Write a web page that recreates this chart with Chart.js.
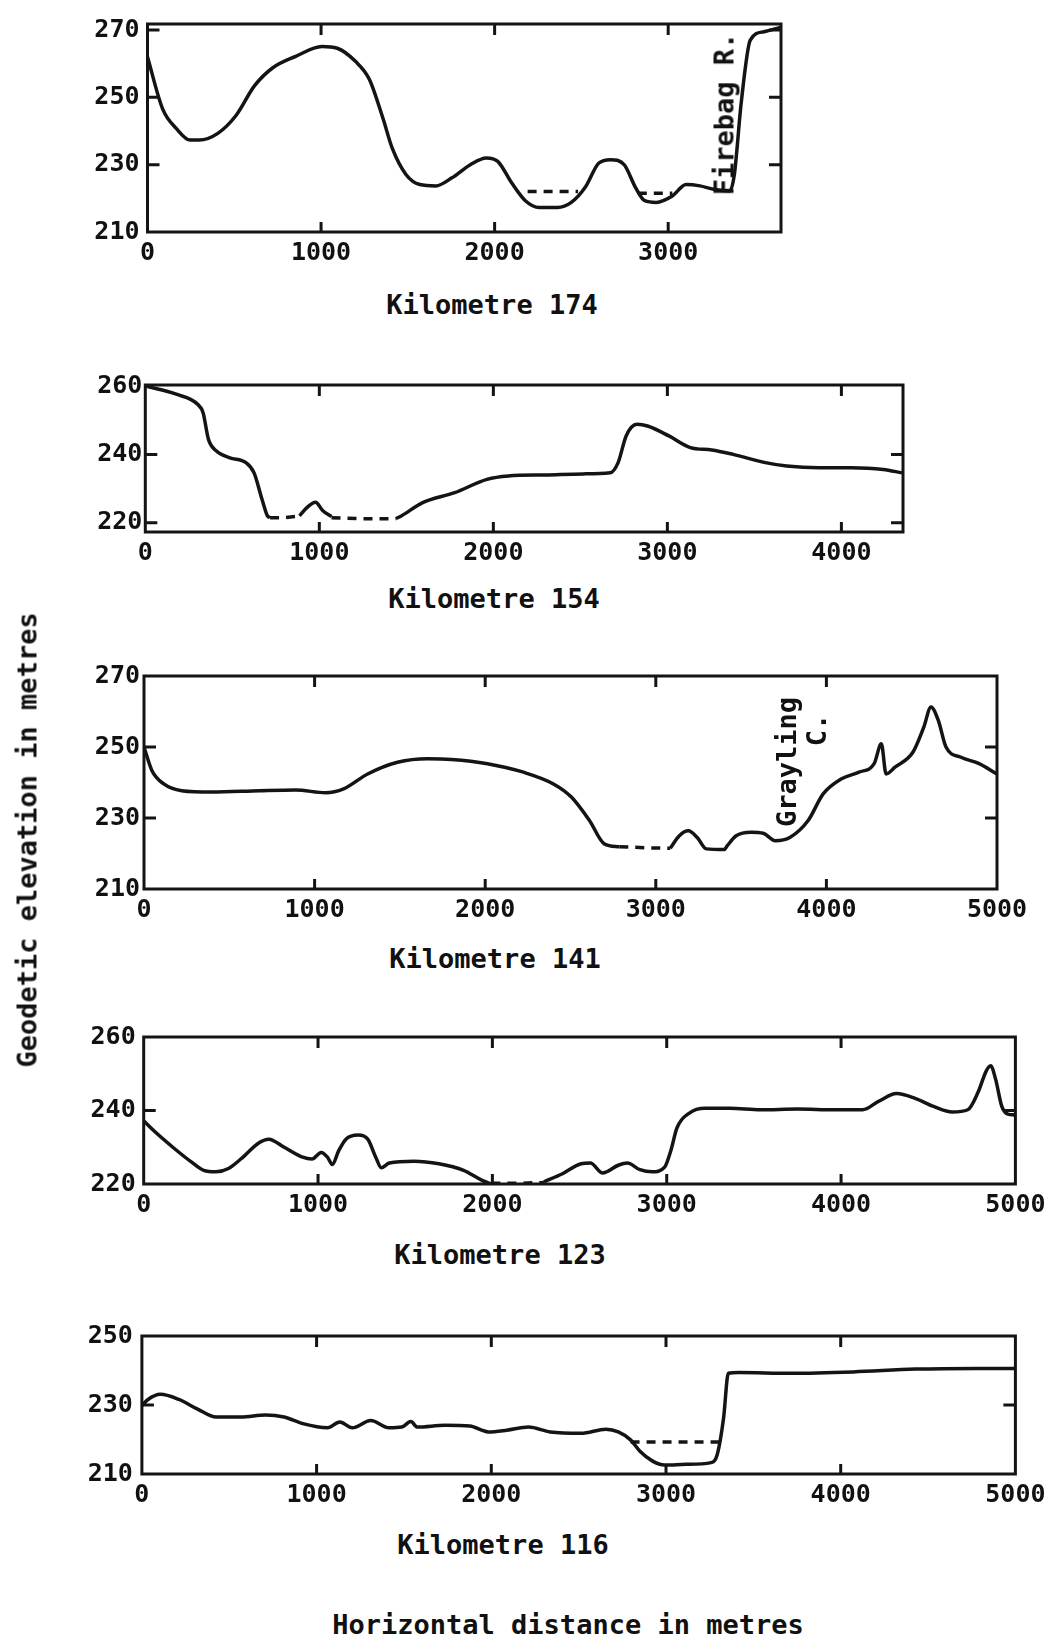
<!DOCTYPE html>
<html>
<head>
<meta charset="utf-8">
<script src="https://cdn.jsdelivr.net/npm/chart.js@4.4.1/dist/chart.umd.min.js"></script>
<style>
  html, body { margin: 0; padding: 0; background: #fff; }
  body { width: 1056px; height: 1643px; position: relative; overflow: hidden;
         font-family: 'DejaVu Sans Mono', monospace; font-weight: bold; color: #111; }
  canvas { position: absolute; left: 0; }
  .lbl { position: absolute; white-space: nowrap; line-height: 1; transform: translate(-50%, -50%); }
  .rot { transform: translate(-50%, -50%) rotate(-90deg); }
</style>
</head>
<body>
<canvas id="km174"></canvas>
<canvas id="km154"></canvas>
<canvas id="km141"></canvas>
<canvas id="km123"></canvas>
<canvas id="km116"></canvas>

<div class="lbl" style="left:492px;top:304px;font-size:27px">Kilometre 174</div>
<div class="lbl" style="left:494px;top:598px;font-size:27px">Kilometre 154</div>
<div class="lbl" style="left:495px;top:958px;font-size:27px">Kilometre 141</div>
<div class="lbl" style="left:500px;top:1254px;font-size:27px">Kilometre 123</div>
<div class="lbl" style="left:503px;top:1544px;font-size:27px">Kilometre 116</div>

<div class="lbl rot" style="left:724px;top:114px;font-size:27px">Firebag R.</div>
<div class="lbl rot" style="left:786px;top:762px;font-size:27px">Grayling</div>
<div class="lbl rot" style="left:816px;top:730px;font-size:27px">C.</div>

<div class="lbl rot" style="left:27px;top:840px;font-size:27px">Geodetic elevation in metres</div>
<div class="lbl" style="left:568px;top:1624px;font-size:27px">Horizontal distance in metres</div>

<script>
var INK = '#141414';

// Kilometre 174
var km174Dist = [0, 87, 167, 246, 299, 405, 510, 616, 722, 854, 1005, 1093, 1198, 1278, 1357, 1410, 1489, 1569, 1661, 1754,
    1860, 1952, 2018, 2098, 2177, 2257, 2362, 2442, 2521, 2601, 2667, 2746, 2812, 2865, 2931, 3024, 3103, 3183, 3262, 3354,
    3381, 3421, 3473, 3552, 3645];
var km174Elev = [262, 246.6, 240.7, 237.3, 237.3, 239.3, 244.6, 253.4, 258.8, 262.2, 265.1, 264.6, 260.7, 255.4, 243.7, 234.9, 227.1, 224.1, 223.7, 226.1,
    230, 232, 231, 224.6, 219.3, 217.3, 217.3, 218.8, 223.2, 230.5, 231.5, 230, 223.2, 219.3, 218.8, 220.7, 224.1, 223.7, 222.7, 222.2,
    227, 248.5, 267, 269.5, 270.8];
var km174WaterDist = [2190, 2481, 2650, 2825, 3024];
var km174WaterElev = [222, 222, null, 221.5, 221.5];
var km174XTicks = [0, 1000, 2000, 3000];
var km174YTicks = [210, 230, 250, 270];

// Kilometre 154
var km154Dist = [0, 178, 302, 332, 363, 409, 486, 578, 625, 671, 702, 717, 800, 886, 930, 978, 1020, 1070, 1250,
    1440, 1471, 1594, 1778, 1963, 2086, 2302, 2517, 2671, 2717, 2763, 2825, 2886, 3009, 3132, 3255, 3378, 3563, 3686,
    3871, 4055, 4240, 4348];
var km154Elev = [260, 257.6, 254.6, 252.2, 244.4, 241, 239, 237.6, 234.6, 226.8, 222, 221.5, null, 222, 224.5, 226, 223.5, 221.8, null,
    221.2, 222, 225.9, 228.8, 232.7, 233.7, 234, 234.3, 234.6, 237.6, 245.4, 248.8, 248.3, 245.4, 242, 241.3, 240, 237.6, 236.6,
    236.1, 236.1, 235.6, 234.6];
var km154WaterDist = [717, 800, 886, 975, 1070, 1250, 1440];
var km154WaterElev = [221.5, 221.5, 222, null, 221.5, 221.2, 221.2];
var km154XTicks = [0, 1000, 2000, 3000, 4000];
var km154YTicks = [220, 240, 260];

// Kilometre 141
var km141Dist = [0, 46, 116, 221, 397, 678, 889, 1065, 1170, 1311, 1486, 1662, 1803, 2013, 2224, 2400, 2505, 2611, 2699, 2786, 2950,
    3085, 3138, 3191, 3243, 3296, 3401, 3419, 3471, 3559, 3630, 3700, 3788, 3893, 3981, 4086, 4191, 4280, 4322, 4350,
    4402, 4508, 4571, 4613, 4656, 4701, 4789, 4895, 5000];
var km141Elev = [250, 243.4, 239.6, 237.7, 237.3, 237.7, 237.9, 237.1, 238.2, 242.4, 245.7, 246.7, 246.5, 245.3, 242.9, 239.6, 235.9, 229.3, 222.7, 221.9, null,
    221.5, 225, 226.4, 224.5, 221.3, 221.1, 222.2, 225, 226, 225.7, 223.6, 224.6, 229.3, 236.8, 241, 242.9, 245.3, 250.9, 242.4,
    244.3, 248.6, 255.6, 261.3, 257.5, 250, 247.1, 245.3, 242.4];
var km141WaterDist = [2786, 2950, 3085];
var km141WaterElev = [221.9, 221.6, 221.5];
var km141XTicks = [0, 1000, 2000, 3000, 4000, 5000];
var km141YTicks = [210, 230, 250, 270];

// Kilometre 123
var km123Dist = [0, 60, 167, 273, 344, 415, 486, 557, 664, 717, 806, 912, 965, 1018, 1054, 1082, 1118, 1160, 1231, 1285,
    1331, 1363, 1409, 1551, 1693, 1835, 1941, 1994, 2150,
    2296, 2402, 2509, 2562, 2633, 2722, 2775, 2846, 2917, 2988, 3023, 3059, 3130, 3219, 3361, 3538, 3751, 3964, 4124, 4212,
    4318, 4425, 4531, 4638, 4727, 4787, 4833, 4858, 4886, 4922, 4957, 4993];
var km123Elev = [237.2, 234.4, 230, 226, 223.7, 223.3, 224.2, 226.8, 231.3, 232.2, 230, 227.3, 226.8, 228.6, 227.3, 225.3, 229, 232.2, 233.3, 232.2,
    227.3, 224.4, 225.7, 226.2, 225.5, 223.7, 221, 220, null,
    220.6, 222.8, 225.5, 225.7, 223, 225.1, 225.7, 223.9, 223.3, 224.6, 229, 235.3, 239.3, 240.6, 240.6, 240.2, 240.4, 240.2, 240.2, 242.4,
    244.6, 243.3, 241.1, 239.6, 240.2, 245.1, 250.8, 252.2, 248.6, 241.1, 239, 238.8];
var km123WaterDist = [1994, 2150, 2296];
var km123WaterElev = [220.2, 220.2, 220.4];
var km123XTicks = [0, 1000, 2000, 3000, 4000, 5000];
var km123YTicks = [220, 240, 260];

// Kilometre 116
var km116Dist = [0, 35, 106, 212, 319, 425, 567, 708, 814, 921, 1062, 1133, 1204, 1310, 1416, 1487, 1540, 1576, 1735, 1877,
    1983, 2089, 2213, 2337, 2514, 2656, 2727, 2797, 2851, 2921, 2992, 3116, 3258, 3293, 3329, 3357, 3417, 3718, 4072, 4426,
    4780, 5000];
var km116Elev = [229.8, 231.6, 233.1, 231.6, 228.8, 226.5, 226.5, 227.1, 226.5, 224.6, 223.4, 225.1, 223.4, 225.5, 223.4, 223.6, 225.2, 223.6, 224.1, 223.9,
    222.2, 222.7, 223.6, 222.2, 221.8, 223, 222.2, 219.9, 216.6, 213.8, 212.6, 212.8, 213.3, 215.6, 226, 239.2, 239.4, 239.2, 239.6, 240.4,
    240.6, 240.6];
var km116WaterDist = [2797, 3311];
var km116WaterElev = [219.3, 219.3];
var km116XTicks = [0, 1000, 2000, 3000, 4000, 5000];
var km116YTicks = [210, 230, 250];

Chart.defaults.font.family = "'DejaVu Sans Mono', monospace";
Chart.defaults.font.size = 25;
Chart.defaults.font.weight = 'bold';
Chart.defaults.color = '#111';

function toPoints(xs, ys) {
    return xs.map(function (x, i) { return { x: x, y: ys[i] }; });
}

// frame round the plot plus the short inward tick marks
var framePlugin = {
    id: 'profileFrame',
    beforeDatasetsDraw: function (chart) {
        var a = chart.chartArea;
        var ctx = chart.ctx;
        var xs = chart.scales.x;
        var ys = chart.scales.y;
        ctx.save();
        ctx.strokeStyle = INK;
        ctx.lineWidth = 3;
        ctx.strokeRect(a.left, a.top, a.right - a.left, a.bottom - a.top);
        ctx.beginPath();
        xs.ticks.forEach(function (t) {
            var px = xs.getPixelForValue(t.value);
            if (px - a.left < 5 || a.right - px < 5) return;
            ctx.moveTo(px, a.top); ctx.lineTo(px, a.top + 11);
            ctx.moveTo(px, a.bottom); ctx.lineTo(px, a.bottom - 10);
        });
        ys.ticks.forEach(function (t) {
            var py = ys.getPixelForValue(t.value);
            if (py - a.top < 5 || a.bottom - py < 5) return;
            ctx.moveTo(a.left, py); ctx.lineTo(a.left + 12, py);
            ctx.moveTo(a.right, py); ctx.lineTo(a.right - 12, py);
        });
        ctx.stroke();
        ctx.restore();
    }
};

function makeProfile(id, box, p) {
    var canvas = document.getElementById(id);
    var h = box.bottom - box.top;
    canvas.width = 1056;
    canvas.height = Math.round(h + 20 + 45);
    canvas.style.top = (box.top - 20) + 'px';

    var datasets = [{
        data: toPoints(p.dist, p.elev),
        borderColor: INK,
        borderWidth: 3.5,
        pointRadius: 0,
        cubicInterpolationMode: 'monotone',
        spanGaps: false,
        fill: false
    }, {
        data: toPoints(p.waterDist, p.waterElev),
        borderColor: INK,
        borderWidth: 3.5,
        borderDash: [9, 7],
        pointRadius: 0,
        spanGaps: false,
        fill: false
    }];

    return new Chart(canvas, {
        type: 'line',
        data: { datasets: datasets },
        options: {
            responsive: false,
            animation: false,
            events: [],
            layout: { padding: { top: 20, bottom: 0, left: box.left - 60, right: 1056 - box.right } },
            plugins: { legend: { display: false }, tooltip: { enabled: false } },
            scales: {
                x: {
                    type: 'linear', min: 0, max: p.xMax,
                    grid: { display: false, drawTicks: false },
                    border: { display: false },
                    afterBuildTicks: function (s) { s.ticks = p.xTicks.map(function (v) { return { value: v }; }); },
                    afterFit: function (s) { s.height = 45; },
                    ticks: { padding: 6, maxRotation: 0, autoSkip: false,
                             callback: function (v) { return String(v); } }
                },
                y: {
                    type: 'linear', min: p.yMin, max: p.yMax,
                    grid: { display: false, drawTicks: false },
                    border: { display: false },
                    afterBuildTicks: function (s) { s.ticks = p.yTicks.map(function (v) { return { value: v }; }); },
                    afterFit: function (s) { s.width = 60; },
                    ticks: { padding: box.gap, autoSkip: false,
                             callback: function (v) { return String(v); } }
                }
            }
        },
        plugins: [framePlugin]
    });
}

makeProfile('km174', { left: 147.5, top: 21, right: 781, bottom: 231.7, gap: 8 }, {
    dist: km174Dist, elev: km174Elev, waterDist: km174WaterDist, waterElev: km174WaterElev,
    xMax: 3650, yMin: 210, yMax: 271.8, xTicks: km174XTicks, yTicks: km174YTicks
});
makeProfile('km154', { left: 145.3, top: 385, right: 903, bottom: 531.7, gap: 3 }, {
    dist: km154Dist, elev: km154Elev, waterDist: km154WaterDist, waterElev: km154WaterElev,
    xMax: 4354, yMin: 217.3, yMax: 260.3, xTicks: km154XTicks, yTicks: km154YTicks
});
makeProfile('km141', { left: 144, top: 675.7, right: 997, bottom: 888.3, gap: 4 }, {
    dist: km141Dist, elev: km141Elev, waterDist: km141WaterDist, waterElev: km141WaterElev,
    xMax: 5000, yMin: 210, yMax: 270, xTicks: km141XTicks, yTicks: km141YTicks
});
makeProfile('km123', { left: 143.7, top: 1034, right: 1015.4, bottom: 1184, gap: 8 }, {
    dist: km123Dist, elev: km123Elev, waterDist: km123WaterDist, waterElev: km123WaterElev,
    xMax: 5000, yMin: 220, yMax: 260, xTicks: km123XTicks, yTicks: km123YTicks
});
makeProfile('km116', { left: 141.9, top: 1331.7, right: 1015.4, bottom: 1473.3, gap: 9 }, {
    dist: km116Dist, elev: km116Elev, waterDist: km116WaterDist, waterElev: km116WaterElev,
    xMax: 5000, yMin: 210, yMax: 250, xTicks: km116XTicks, yTicks: km116YTicks
});
</script>
</body>
</html>
